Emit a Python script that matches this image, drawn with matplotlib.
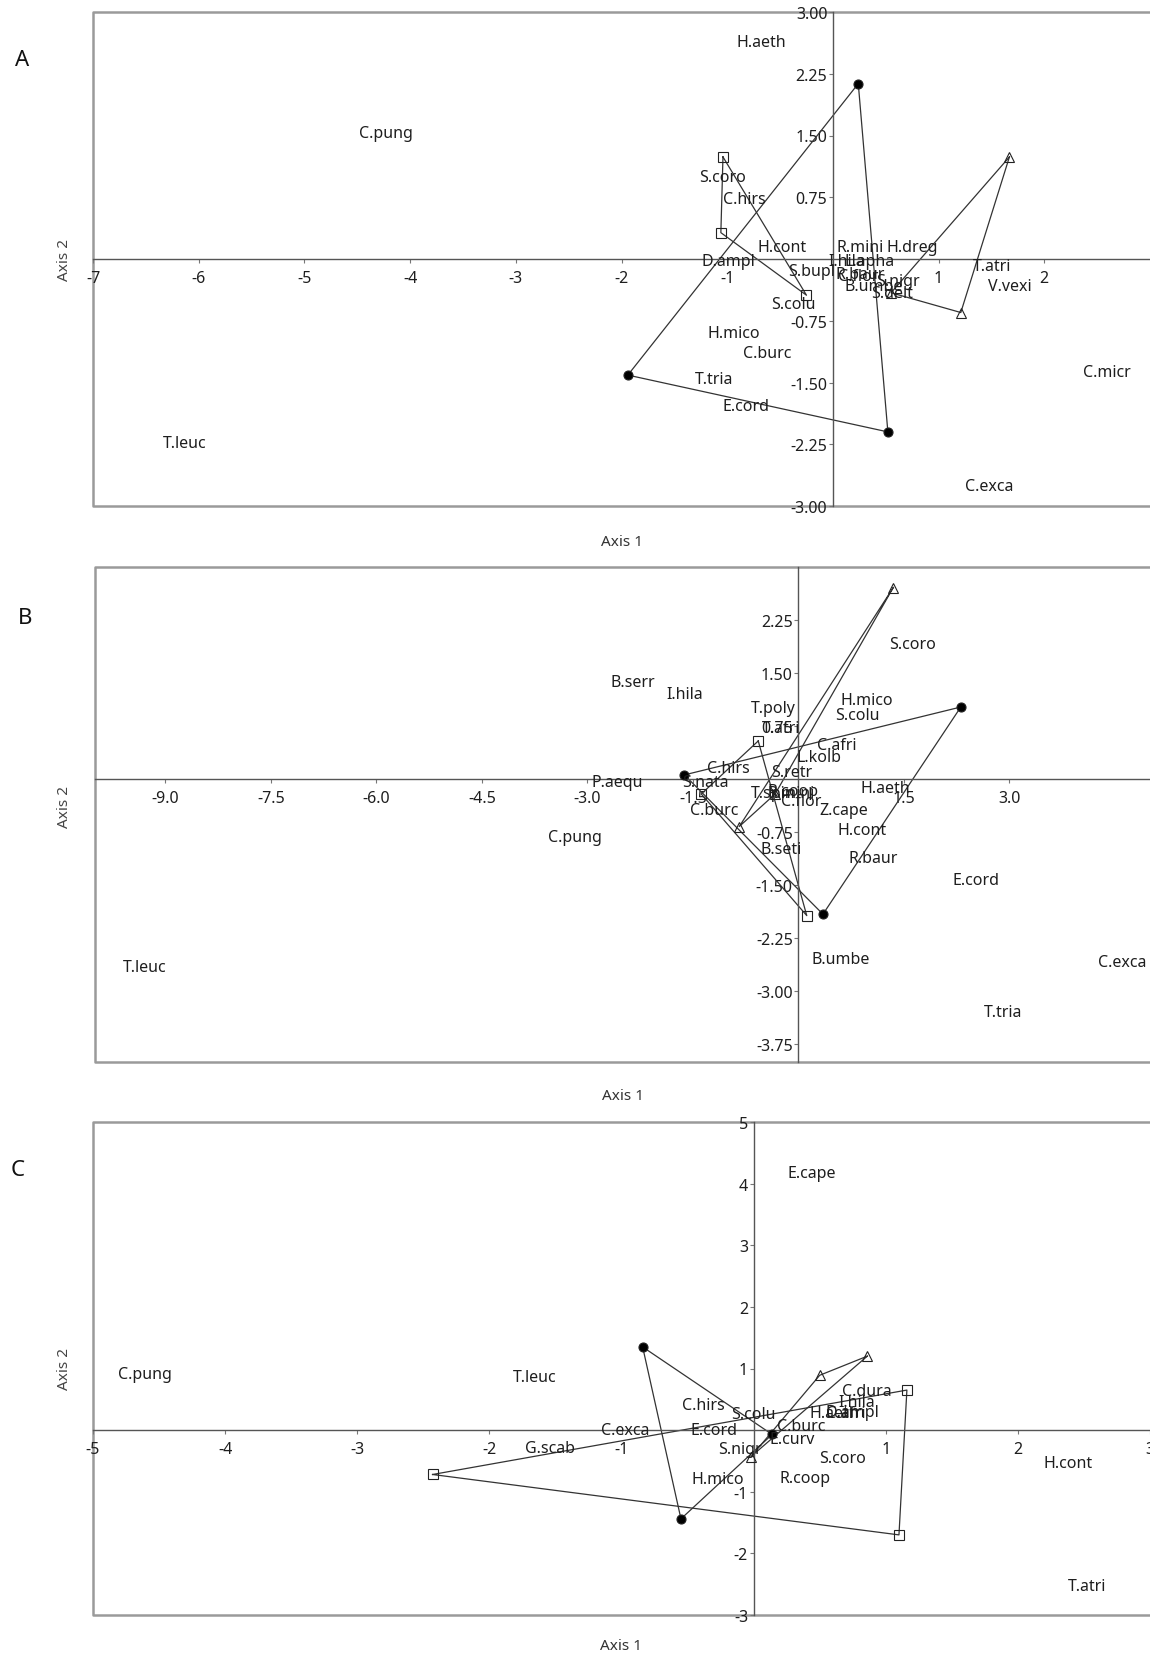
import matplotlib.pyplot as plt

plt.rcParams['font.family'] = ['Noto Sans', 'DejaVu Sans']

# --- Panel A: species scores ---
A_NAMES = ["H.aeth", "C.pung", "S.coro", "C.hirs", "H.cont", "D.ampl", "R.mini", "H.dreg",
           "S.bupl", "I.hila", "L.apha", "R.baur", "C.flor", "S.nigr", "B.umbe", "S.delt",
           "T.atri", "V.vexi", "S.colu", "H.mico", "C.burc", "T.tria", "E.cord", "C.micr",
           "T.leuc", "C.exca"]
A_X = [-0.68, -4.23, -1.04, -0.84, -0.48, -0.99, 0.26, 0.75,
       -0.20, 0.13, 0.35, 0.26, 0.24, 0.62, 0.39, 0.56,
       1.51, 1.67, -0.37, -0.94, -0.62, -1.12, -0.82, 2.59,
       -6.13, 1.48]
A_Y = [2.64, 1.53, 1.00, 0.73, 0.15, -0.03, 0.15, 0.15,
       -0.14, -0.03, -0.03, -0.18, -0.21, -0.27, -0.33, -0.41,
       -0.09, -0.33, -0.55, -0.90, -1.14, -1.46, -1.78, -1.37,
       -2.23, -2.76]
# site groups (convex hulls)
A_CIRC_X = [0.24, -1.94, 0.52]
A_CIRC_Y = [2.13, -1.41, -2.10]
A_SQ_X = [-1.04, -1.06, -0.25]
A_SQ_Y = [1.24, 0.32, -0.44]
A_TRI_X = [1.67, 1.21, 0.55]
A_TRI_Y = [1.24, -0.65, -0.41]
A_XTICKS = [-7, -6, -5, -4, -3, -2, -1, 1, 2]
A_XLABELS = ["-7", "-6", "-5", "-4", "-3", "-2", "-1", "1", "2"]
A_YTICKS = [3.0, 2.25, 1.5, 0.75, -0.75, -1.5, -2.25, -3.0]
A_YLABELS = ["3.00", "2.25", "1.50", "0.75", "-0.75", "-1.50", "-2.25", "-3.00"]

# --- Panel B ---
B_NAMES = ["S.coro", "B.serr", "I.hila", "H.mico", "T.poly", "S.colu", "T.atri", "C.afri",
           "L.kolb", "C.hirs", "S.retr", "P.aequ", "S.nata", "H.aeth", "T.spin", "R.mini",
           "R.coop", "C.flor", "C.burc", "Z.cape", "C.pung", "H.cont", "B.seti", "R.baur",
           "E.cord", "B.umbe", "T.leuc", "C.exca", "T.tria"]
B_X = [1.63, -2.35, -1.62, 0.97, -0.36, 0.84, -0.24, 0.55,
       0.30, -1.00, -0.09, -2.57, -1.32, 1.23, -0.36, -0.10,
       -0.08, 0.04, -1.20, 0.64, -3.18, 0.90, -0.25, 1.07,
       2.52, 0.60, -9.30, 4.60, 2.91]
B_Y = [1.91, 1.38, 1.21, 1.12, 1.00, 0.90, 0.72, 0.48,
       0.31, 0.16, 0.10, -0.04, -0.04, -0.13, -0.19, -0.19,
       -0.17, -0.31, -0.43, -0.43, -0.82, -0.72, -0.99, -1.11,
       -1.42, -2.54, -2.66, -2.59, -3.29]
B_CIRC_X = [-1.62, 2.31, 0.35]
B_CIRC_Y = [0.06, 1.02, -1.91]
B_SQ_X = [-0.57, -1.38, 0.12]
B_SQ_Y = [0.54, -0.21, -1.93]
B_TRI_X = [1.35, -0.84, -0.33]
B_TRI_Y = [2.71, -0.67, -0.21]
B_XTICKS = [-9.0, -7.5, -6.0, -4.5, -3.0, -1.5, 1.5, 3.0]
B_XLABELS = ["-9.0", "-7.5", "-6.0", "-4.5", "-3.0", "-1.5", "1.5", "3.0"]
B_YTICKS = [2.25, 1.5, 0.75, -0.75, -1.5, -2.25, -3.0, -3.75]
B_YLABELS = ["2.25", "1.50", "0.75", "-0.75", "-1.50", "-2.25", "-3.00", "-3.75"]

# --- Panel C ---
C_NAMES = ["E.cape", "C.pung", "T.leuc", "C.dura", "I.hila", "C.hirs", "S.colu", "H.aeth",
           "C.afri", "D.ampl", "C.exca", "E.cord", "C.burc", "E.curv", "G.scab", "S.nigr",
           "S.coro", "H.cont", "H.mico", "R.coop", "T.atri"]
C_X = [0.44, -4.61, -1.66, 0.86, 0.78, -0.38, 0.00, 0.61,
       0.70, 0.75, -0.97, -0.30, 0.36, 0.29, -1.54, -0.10,
       0.67, 2.38, -0.27, 0.39, 2.52]
C_Y = [4.18, 0.91, 0.86, 0.63, 0.46, 0.41, 0.26, 0.28,
       0.28, 0.30, 0.00, 0.00, 0.07, -0.15, -0.29, -0.31,
       -0.45, -0.53, -0.79, -0.77, -2.53]
C_CIRC_X = [-0.84, -0.55, 0.14]
C_CIRC_Y = [1.35, -1.44, -0.07]
C_SQ_X = [-2.43, 1.16, 1.10]
C_SQ_Y = [-0.72, 0.65, -1.70]
C_TRI_X = [0.86, 0.50, -0.02]
C_TRI_Y = [1.20, 0.89, -0.43]
C_XTICKS = [-5, -4, -3, -2, -1, 1, 2, 3]
C_XLABELS = ["-5", "-4", "-3", "-2", "-1", "1", "2", "3"]
C_YTICKS = [5, 4, 3, 2, 1, -1, -2, -3]
C_YLABELS = ["5", "4", "3", "2", "1", "-1", "-2", "-3"]

TEXT_COLOR = "#1e1e1e"
LINE_COLOR = "#333333"
FS = 11.5


def closed(v):
    return list(v) + [v[0]]


def draw_panel(ax, names, xs, ys, groups, xlim, ylim, xticks, xlabels, yticks, ylabels):
    ax.set_xlim(*xlim)
    ax.set_ylim(*ylim)

    # axes through the origin
    for side in ("top", "right"):
        ax.spines[side].set_visible(False)
    ax.spines["left"].set_position(("data", 0))
    ax.spines["bottom"].set_position(("data", 0))
    for side in ("left", "bottom"):
        ax.spines[side].set_color("#555555")
        ax.spines[side].set_linewidth(1.0)
    ax.set_xticks(xticks, xlabels)
    ax.set_yticks(yticks, ylabels)
    ax.tick_params(axis="both", direction="out", length=3, width=0.8, color="#777777",
                   labelsize=FS, labelcolor=TEXT_COLOR)
    ax.tick_params(axis="x", pad=5)
    ax.tick_params(axis="y", pad=1)

    # outer frame (top, left, bottom)
    ax.plot([1, 0, 0, 1], [1, 1, 0, 0], transform=ax.transAxes, color="#9a9a9a",
            lw=1.8, clip_on=False, zorder=1)

    for gx, gy, marker, face in groups:
        ax.plot(closed(gx), closed(gy), color=LINE_COLOR, lw=0.9, zorder=2)
        ax.plot(gx, gy, linestyle="none", marker=marker, ms=6.5,
                mfc=face, mec="#222222", mew=0.8, zorder=3)

    for name, x, y in zip(names, xs, ys):
        ax.text(x, y, name, ha="center", va="center", fontsize=FS, color=TEXT_COLOR,
                zorder=4)


fig = plt.figure(figsize=(11.5, 16.56), dpi=100)
W, H = 1150, 1656


def add_axes(left, top, bottom):
    return fig.add_axes([left / W, 1 - bottom / H, 1 - left / W, (bottom - top) / H])


axA = add_axes(93, 13, 507)
draw_panel(axA, A_NAMES, A_X, A_Y,
           [(A_CIRC_X, A_CIRC_Y, "o", "black"), (A_SQ_X, A_SQ_Y, "s", "none"),
            (A_TRI_X, A_TRI_Y, "^", "none")],
           (-7, 3), (-3, 3), A_XTICKS, A_XLABELS, A_YTICKS, A_YLABELS)

axB = add_axes(95, 568, 1063)
draw_panel(axB, B_NAMES, B_X, B_Y,
           [(B_CIRC_X, B_CIRC_Y, "o", "black"), (B_SQ_X, B_SQ_Y, "s", "none"),
            (B_TRI_X, B_TRI_Y, "^", "none")],
           (-10, 5), (-4, 3), B_XTICKS, B_XLABELS, B_YTICKS, B_YLABELS)

axC = add_axes(93, 1123, 1616)
draw_panel(axC, C_NAMES, C_X, C_Y,
           [(C_CIRC_X, C_CIRC_Y, "o", "black"), (C_SQ_X, C_SQ_Y, "s", "none"),
            (C_TRI_X, C_TRI_Y, "^", "none")],
           (-5, 3), (-3, 5), C_XTICKS, C_XLABELS, C_YTICKS, C_YLABELS)

# axis titles and panel letters
for letter, (lx, ly), (x1x, x1y), (x2x, x2y) in [
        ("A", (22, 60), (622, 542), (65, 260)),
        ("B", (25, 618), (623, 1096), (65, 807)),
        ("C", (18, 1170), (621, 1647), (65, 1369))]:
    fig.text(lx / W, 1 - ly / H, letter, fontsize=16, ha="center", va="center", color="#111111")
    fig.text(x1x / W, 1 - x1y / H, "Axis 1", fontsize=11, ha="center", va="center", color="#333333")
    fig.text(x2x / W, 1 - x2y / H, "Axis 2", fontsize=11, ha="center", va="center",
             rotation=90, color="#444444")

fig.savefig("out.png", dpi=100)
